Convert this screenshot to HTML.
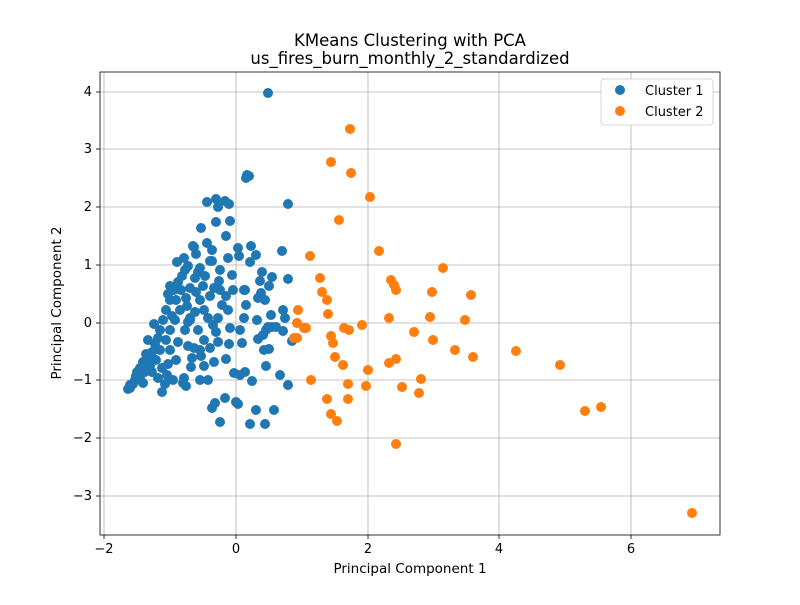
<!DOCTYPE html>
<html><head><meta charset="utf-8"><style>body{margin:0;background:#fff}svg text{font-family:"DejaVu Sans","Liberation Sans",sans-serif;fill:#000}</style></head>
<body>
<svg id="s" width="800" height="600" xmlns="http://www.w3.org/2000/svg">
<rect width="800" height="600" fill="#fff"/>
<g stroke="#b0b0b0" stroke-width="0.8">
<line x1="104" y1="72" x2="104" y2="535"/><line x1="236" y1="72" x2="236" y2="535"/><line x1="368" y1="72" x2="368" y2="535"/><line x1="499" y1="72" x2="499" y2="535"/><line x1="631" y1="72" x2="631" y2="535"/>
<line x1="100" y1="92" x2="720" y2="92"/><line x1="100" y1="149" x2="720" y2="149"/><line x1="100" y1="207" x2="720" y2="207"/><line x1="100" y1="265" x2="720" y2="265"/><line x1="100" y1="323" x2="720" y2="323"/><line x1="100" y1="380" x2="720" y2="380"/><line x1="100" y1="438" x2="720" y2="438"/><line x1="100" y1="496" x2="720" y2="496"/>
</g>
<g id="pts"></g>
<rect x="100" y="72" width="620" height="463" fill="none" stroke="#000" stroke-width="0.8"/>
<g stroke="#000" stroke-width="0.8">
<line x1="104" y1="535" x2="104" y2="539"/><line x1="236" y1="535" x2="236" y2="539"/><line x1="368" y1="535" x2="368" y2="539"/><line x1="499" y1="535" x2="499" y2="539"/><line x1="631" y1="535" x2="631" y2="539"/>
<line x1="96" y1="92" x2="100" y2="92"/><line x1="96" y1="149" x2="100" y2="149"/><line x1="96" y1="207" x2="100" y2="207"/><line x1="96" y1="265" x2="100" y2="265"/><line x1="96" y1="323" x2="100" y2="323"/><line x1="96" y1="380" x2="100" y2="380"/><line x1="96" y1="438" x2="100" y2="438"/><line x1="96" y1="496" x2="100" y2="496"/>
</g>
<g font-size="13" text-anchor="middle">
<text x="104" y="553">−2</text><text x="236" y="553">0</text><text x="368" y="553">2</text><text x="499" y="553">4</text><text x="631" y="553">6</text>
</g>
<g font-size="13" text-anchor="end">
<text x="92" y="96">4</text><text x="92" y="153">3</text><text x="92" y="211">2</text><text x="92" y="269">1</text><text x="92" y="327">0</text><text x="92" y="384">−1</text><text x="92" y="442">−2</text><text x="92" y="500">−3</text>
</g>
<text x="410" y="573" font-size="13.5" text-anchor="middle">Principal Component 1</text>
<text transform="translate(61,303) rotate(-90)" font-size="13.5" text-anchor="middle">Principal Component 2</text>
<text x="410" y="46" font-size="16.5" text-anchor="middle">KMeans Clustering with PCA</text>
<text x="410" y="64" font-size="16.5" text-anchor="middle">us_fires_burn_monthly_2_standardized</text>
<rect x="601" y="79" width="112" height="46" rx="3" fill="#fff" stroke="#ccc" stroke-width="0.8"/>
<circle cx="620" cy="90" r="5" fill="#1f77b4"/><text x="645" y="95" font-size="13">Cluster 1</text>
<circle cx="620" cy="111" r="5" fill="#ff7f0e"/><text x="645" y="116" font-size="13">Cluster 2</text>
</svg>
<script>
var o=[[350,129],[331,162],[351,173],[370,197],[339,220],[310,256],[379,251],[443,268],[391,280],[320,278],[394,285],[396,290],[322,292],[327,300],[432,292],[471,295],[389,318],[430,317],[465,320],[298,310],[328,314],[297,323],[304,328],[306,328],[344,328],[349,330],[362,325],[414,332],[433,340],[331,336],[333,343],[297,338],[294,338],[455,350],[473,357],[516,351],[335,357],[343,365],[396,359],[389,363],[368,370],[560,365],[311,380],[348,384],[421,379],[366,386],[402,387],[419,393],[327,399],[348,399],[331,414],[337,421],[396,444],[585,411],[601,407],[692,513]];
var b=[[268,93],[247,175],[249,176],[246,178],[288,204],[216,199],[207,202],[225,201],[218,207],[229,204],[230,221],[216,222],[226,236],[201,228],[194,247],[210,261],[228,258],[238,248],[251,246],[239,256],[256,255],[282,251],[250,262],[193,246],[196,254],[198,272],[220,270],[212,261],[245,290],[244,290],[262,272],[272,277],[260,281],[288,279],[269,286],[261,293],[283,310],[285,318],[271,315],[246,305],[244,318],[257,320],[268,327],[272,327],[263,335],[266,330],[258,339],[276,327],[292,341],[283,331],[269,349],[242,343],[229,344],[226,359],[218,342],[216,332],[234,373],[280,375],[288,385],[252,381],[238,404],[236,402],[225,398],[212,408],[208,380],[204,366],[201,356],[200,350],[192,358],[194,348],[191,367],[188,346],[184,378],[183,383],[173,380],[168,364],[167,375],[165,384],[162,368],[152,372],[140,378],[135,380],[130,388],[128,389],[133,384],[137,372],[140,368],[143,362],[149,356],[152,352],[155,344],[158,338],[160,330],[163,320],[166,310],[170,300],[174,290],[178,282],[182,276],[185,270],[188,266],[190,288],[196,292],[200,300],[204,310],[208,318],[213,325],[218,318],[222,305],[226,296],[210,296],[203,286],[195,278],[186,298],[180,310],[175,320],[170,330],[166,340],[160,350],[156,360],[150,366],[145,372],[170,350],[178,342],[185,330],[190,320],[195,312],[187,306],[176,300],[170,286],[168,294],[181,290],[177,262],[184,258],[200,268],[205,276],[214,288],[219,281],[188,322],[198,330],[204,340],[210,348],[214,362],[200,380],[176,360],[162,392],[274,410],[256,410],[266,366],[245,372],[264,350],[240,330],[230,328],[258,298],[265,300],[228,310],[233,290],[207,243],[212,250],[232,275],[220,290],[190,318],[172,316],[154,324],[148,340],[146,354],[141,368],[136,376],[130,385],[143,383],[158,378],[186,386],[250,424],[265,424],[220,422],[148,362],[215,403],[240,375]];
var g=document.getElementById('pts'),h='';
b.forEach(function(p){h+='<circle cx="'+p[0]+'" cy="'+p[1]+'" r="5" fill="#1f77b4"/>';});
o.forEach(function(p){h+='<circle cx="'+p[0]+'" cy="'+p[1]+'" r="5" fill="#ff7f0e"/>';});
g.innerHTML=h;
</script>
</body></html>
